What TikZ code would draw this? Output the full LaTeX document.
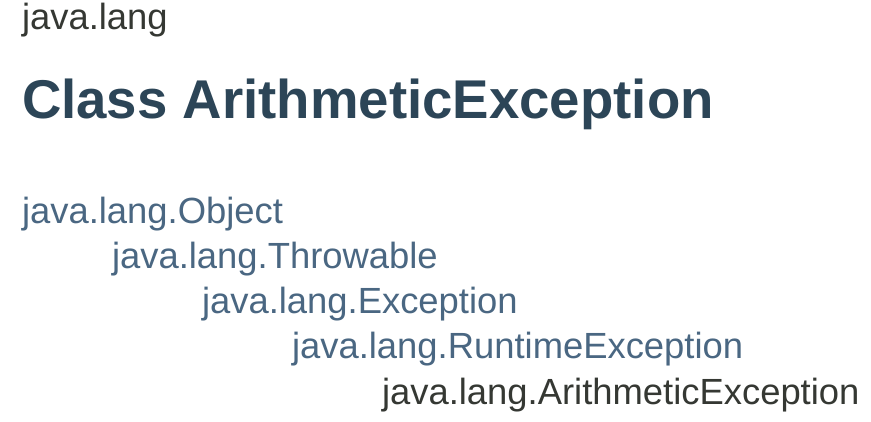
\documentclass[tikz,border=0pt]{standalone}
\usepackage{fontspec}
\setmainfont{Liberation Sans}
\definecolor{plaintext}{HTML}{353833}
\definecolor{linktext}{HTML}{4A6782}
\definecolor{titletext}{HTML}{2C4557}
\tikzset{
  txt/.style={anchor=base west, inner sep=0pt, outer sep=0pt, font=\fontsize{36.4}{40}\selectfont},
  pkg/.style={txt, text=plaintext},
  ttl/.style={anchor=base west, inner sep=0pt, outer sep=0pt, text=titletext, font=\fontsize{54.6}{60}\selectfont\bfseries},
  lnk/.style={txt, text=linktext},
  cur/.style={txt, text=plaintext}
}
\begin{document}
\begin{tikzpicture}[x=1pt,y=-1pt]
\useasboundingbox (0,0) rectangle (871,421);
\fill[white] (0,0) rectangle (871,421);
\node[pkg] (pkg) at (22,29) {java.lang};
\node[ttl] (title) at (22,118) {Class ArithmeticException};
\node[lnk] (obj) at (22,223) {java.lang.Object};
\node[lnk] (thr) at (112,268) {java.lang.Throwable};
\node[lnk] (exc) at (202,313) {java.lang.Exception};
\node[lnk] (rte) at (292,358) {java.lang.RuntimeException};
\node[cur] (ari) at (382,404) {java.lang.ArithmeticException};
\end{tikzpicture}
\end{document}
